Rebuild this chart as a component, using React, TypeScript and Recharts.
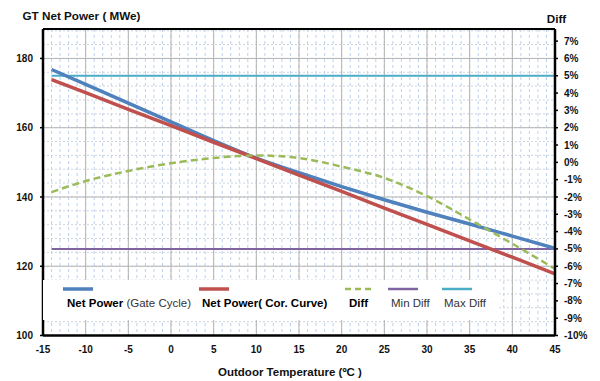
import React from 'react';
import { LineChart, Line, XAxis, YAxis, CartesianGrid, Legend, ReferenceLine } from 'recharts';

const temps = [-14, -10, -5, 0, 5, 10, 15, 20, 25, 30, 35, 40, 45];
const netPowerGateCycle = [176.8, 172.5, 167.1, 161.7, 156.3, 151.2, 147.0, 143.0, 139.2, 135.6, 132.2, 128.7, 125.2];
const netPowerCorCurve = [173.9, 170.1, 165.3, 160.6, 155.8, 151.1, 146.3, 141.6, 136.8, 132.1, 127.3, 122.6, 117.8];
const diffPct = [-1.72, -1.08, -0.5, -0.05, 0.25, 0.4, 0.25, -0.25, -0.9, -1.95, -3.3, -4.7, -6.15];
const minDiffPct = [-5, -5, -5, -5, -5, -5, -5, -5, -5, -5, -5, -5, -5];
const maxDiffPct = [5, 5, 5, 5, 5, 5, 5, 5, 5, 5, 5, 5, 5];

const xTicks = [-15, -10, -5, 0, 5, 10, 15, 20, 25, 30, 35, 40, 45];
const xMinor = Array.from({ length: 61 }, (_, i) => -15 + i);
const leftTicks = [100, 120, 140, 160, 180];
const leftMinor = Array.from({ length: 23 }, (_, i) => 100 + i * 4);
const rightTicks = [-10, -9, -8, -7, -6, -5, -4, -3, -2, -1, 0, 1, 2, 3, 4, 5, 6, 7];

const X_DOMAIN: [number, number] = [-15, 45];
const LEFT_DOMAIN: [number, number] = [100, 188.5];
const RIGHT_DOMAIN: [number, number] = [-10, 7.7];

const data = temps.map((t, i) => ({
  t,
  gate: netPowerGateCycle[i],
  cor: netPowerCorCurve[i],
  diff: diffPct[i],
  minDiff: minDiffPct[i],
  maxDiff: maxDiffPct[i],
}));

const FONT = '"Liberation Sans", Arial, sans-serif';
const C_BLUE = '#4F81BD';
const C_RED = '#C0504D';
const C_GREEN = '#9BBB59';
const C_PURPLE = '#8064A2';
const C_CYAN = '#4BACC6';

const mkV = (vals: number[]) => (p: any) => {
  const { xAxis, offset } = p;
  return vals.map((v) =>
    xAxis && typeof xAxis.scale === 'function'
      ? xAxis.scale(v)
      : offset.left + ((v - X_DOMAIN[0]) / (X_DOMAIN[1] - X_DOMAIN[0])) * offset.width
  );
};
const mkH = (vals: number[]) => (p: any) => {
  const { yAxis, offset } = p;
  return vals.map((v) =>
    yAxis && typeof yAxis.scale === 'function'
      ? yAxis.scale(v)
      : offset.top + offset.height - ((v - LEFT_DOMAIN[0]) / (LEFT_DOMAIN[1] - LEFT_DOMAIN[0])) * offset.height
  );
};

type LegendItem = {
  color: string;
  dash?: string;
  width: number;
  lineX: number;
  textX: number;
  parts: [string, boolean][];
};

const legendItems: LegendItem[] = [
  { color: C_BLUE, width: 3.5, lineX: 20, textX: 24, parts: [['Net Power ', true], ['(Gate Cycle)', false]] },
  { color: C_RED, width: 3.5, lineX: 156, textX: 159, parts: [['Net Power( Cor. Curve)', true]] },
  { color: C_GREEN, width: 2.5, dash: '6 4', lineX: 302, textX: 306, parts: [['Diff', true]] },
  { color: C_PURPLE, width: 2.5, lineX: 345, textX: 348, parts: [['Min Diff', false]] },
  { color: C_CYAN, width: 2.5, lineX: 399, textX: 401, parts: [['Max Diff', false]] },
];

const renderLegend = () => (
  <div style={{ position: 'relative', width: 454, height: 40, fontFamily: FONT }}>
    {legendItems.map((it, i) => (
      <React.Fragment key={i}>
        <svg style={{ position: 'absolute', left: it.lineX, top: 5, overflow: 'visible' }} width={30} height={8}>
          <line x1={0} y1={4} x2={30} y2={4} stroke={it.color} strokeWidth={it.width} strokeDasharray={it.dash} />
        </svg>
        <div
          style={{
            position: 'absolute',
            left: it.textX,
            top: 16,
            lineHeight: '14px',
            fontSize: 11.5,
            whiteSpace: 'nowrap',
          }}
        >
          {it.parts.map(([txt, bold], j) => (
            <span key={j} style={{ fontWeight: bold ? 'bold' : 'normal', color: bold ? '#000' : '#333' }}>
              {txt}
            </span>
          ))}
        </div>
      </React.Fragment>
    ))}
  </div>
);

const tickStyle = { fontSize: 10, fontWeight: 'bold' as const, fill: '#111', fontFamily: FONT };

export default function App() {
  return (
    <div style={{ position: 'absolute', left: 0, top: 0, width: 600, height: 381, background: '#fff' }}>
      <LineChart width={600} height={381} data={data} margin={{ top: 29, right: 0, bottom: 0, left: 0 }}>
        <CartesianGrid
          yAxisId="left"
          horizontal={false}
          stroke="#bcd0ee"
          strokeDasharray="3 3"
          strokeWidth={1}
          verticalCoordinatesGenerator={mkV(xMinor)}
        />
        <CartesianGrid
          yAxisId="left"
          vertical={false}
          stroke="#cdd5e0"
          strokeDasharray="2 2"
          strokeWidth={1}
          horizontalCoordinatesGenerator={mkH(leftMinor)}
        />
        <CartesianGrid
          yAxisId="left"
          stroke="#b4b4b4"
          strokeWidth={1}
          verticalCoordinatesGenerator={mkV(xTicks)}
          horizontalCoordinatesGenerator={mkH(leftTicks)}
        />
        <XAxis
          dataKey="t"
          type="number"
          domain={X_DOMAIN}
          ticks={xTicks}
          allowDataOverflow
          height={45.5}
          tickLine={false}
          tickSize={0}
          tickMargin={10}
          tick={tickStyle}
          axisLine={{ stroke: '#000', strokeWidth: 2.5 }}
          label={{
            value: 'Outdoor Temperature (ºC )',
            position: 'insideBottom',
            offset: 5,
            dx: -9,
            style: { fontSize: 11.5, fontWeight: 'bold', fill: '#111', fontFamily: FONT },
          }}
        />
        <YAxis
          yAxisId="left"
          orientation="left"
          width={43}
          domain={LEFT_DOMAIN}
          ticks={leftTicks}
          allowDataOverflow
          tickSize={3}
          tickMargin={7}
          tick={tickStyle}
          tickLine={{ stroke: '#000', strokeWidth: 1.5 }}
          axisLine={{ stroke: '#000', strokeWidth: 2.5 }}
          label={{
            value: 'GT Net Power ( MWe)',
            position: 'top',
            offset: 9,
            dx: 60,
            style: { fontSize: 11.7, fontWeight: 'bold', fill: '#111', fontFamily: FONT },
          }}
        />
        <YAxis
          yAxisId="right"
          orientation="right"
          width={45}
          domain={RIGHT_DOMAIN}
          ticks={rightTicks}
          allowDataOverflow
          tickSize={3}
          tickMargin={6}
          tick={tickStyle}
          tickFormatter={(v: number) => `${v}%`}
          tickLine={{ stroke: '#000', strokeWidth: 1.5 }}
          axisLine={{ stroke: '#000', strokeWidth: 2.5 }}
          label={{
            value: 'Diff',
            position: 'top',
            offset: 6,
            dx: -21,
            style: { fontSize: 11.7, fontWeight: 'bold', fill: '#111', fontFamily: FONT },
          }}
        />
        <ReferenceLine yAxisId="left" y={LEFT_DOMAIN[1]} stroke="#000" strokeWidth={2} />
        <Line yAxisId="right" dataKey="minDiff" name="Min Diff" stroke={C_PURPLE} strokeWidth={2} dot={false} isAnimationActive={false} />
        <Line yAxisId="right" dataKey="maxDiff" name="Max Diff" stroke={C_CYAN} strokeWidth={2} dot={false} isAnimationActive={false} />
        <Line yAxisId="left" dataKey="gate" name="Net Power (Gate Cycle)" type="monotone" stroke={C_BLUE} strokeWidth={3.5} dot={false} isAnimationActive={false} />
        <Line yAxisId="left" dataKey="cor" name="Net Power( Cor. Curve)" stroke={C_RED} strokeWidth={3.5} dot={false} isAnimationActive={false} />
        <Line yAxisId="right" dataKey="diff" name="Diff" type="monotone" stroke={C_GREEN} strokeWidth={2.5} strokeDasharray="7 4" dot={false} isAnimationActive={false} />
        <Legend
          layout="horizontal"
          verticalAlign="middle"
          align="center"
          width={454}
          height={40}
          wrapperStyle={{ left: 43, top: 280, width: 454, height: 40, background: '#fff' }}
          content={renderLegend}
        />
      </LineChart>
    </div>
  );
}
